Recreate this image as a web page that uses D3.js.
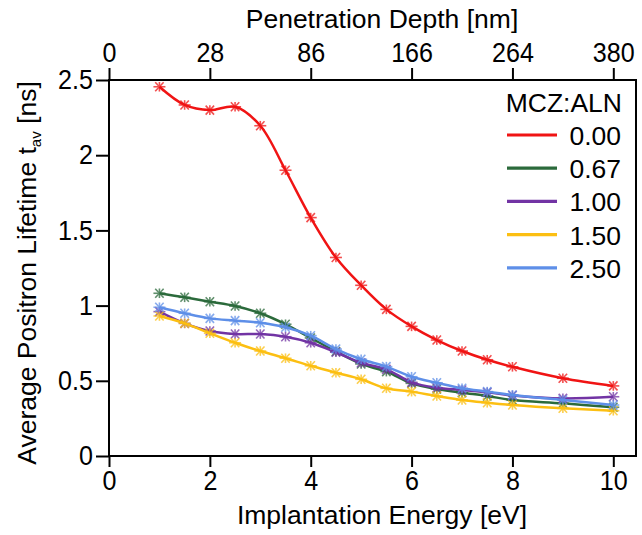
<!DOCTYPE html>
<html>
<head>
<meta charset="utf-8">
<script src="https://cdn.jsdelivr.net/npm/d3@7"></script>
<style>
  body { margin: 0; background: #fff; }
  text { font-family: "Liberation Sans", Arial, sans-serif; fill: #000; }
</style>
</head>
<body>
<div id="chart"></div>
<script>
// implantation energies (eV) shared by every sample
const energy = [1, 1.5, 2, 2.5, 3, 3.5, 4, 4.5, 5, 5.5, 6, 6.5, 7, 7.5, 8, 9, 10];

// average positron lifetime (ns) per MCZ:ALN ratio
const tau000 = [2.455, 2.334, 2.30, 2.322, 2.196, 1.90, 1.585, 1.32, 1.135, 0.975, 0.862, 0.771, 0.698, 0.64, 0.593, 0.517, 0.466];
const tau067 = [1.082, 1.055, 1.026, 0.997, 0.949, 0.876, 0.785, 0.695, 0.612, 0.561, 0.483, 0.445, 0.421, 0.399, 0.372, 0.35, 0.324];
const tau100 = [0.96, 0.882, 0.831, 0.811, 0.811, 0.793, 0.753, 0.69, 0.62, 0.576, 0.49, 0.454, 0.439, 0.423, 0.403, 0.383, 0.394];
const tau150 = [0.931, 0.882, 0.816, 0.753, 0.698, 0.65, 0.60, 0.554, 0.51, 0.45, 0.428, 0.399, 0.372, 0.354, 0.339, 0.317, 0.301];
const tau250 = [0.989, 0.949, 0.915, 0.90, 0.886, 0.856, 0.80, 0.711, 0.643, 0.594, 0.527, 0.487, 0.45, 0.428, 0.406, 0.372, 0.339];

const seriesNames = ["0.00", "0.67", "1.00", "1.50", "2.50"];
const seriesValues = [tau000, tau067, tau100, tau150, tau250];
const seriesColors = ["#f01414", "#2b6a3b", "#7234a4", "#fcbf12", "#5e8fe8"];

// top axis: penetration depth labels at these energies
const depthTickEnergy = [0, 2, 4, 6, 8, 10];
const depthTickLabels = ["0", "28", "86", "166", "264", "380"];

const energyTicks = [0, 2, 4, 6, 8, 10];
const lifetimeTicks = [0, 0.5, 1, 1.5, 2, 2.5];

const W = 642, H = 535;
const margin = { top: 80, right: 6, bottom: 79, left: 109 };
const innerW = W - margin.left - margin.right;
const innerH = H - margin.top - margin.bottom;

const svg = d3.select("#chart").append("svg")
    .attr("width", W)
    .attr("height", H);

const g = svg.append("g")
    .attr("transform", `translate(${margin.left},${margin.top})`);

const x = d3.scaleLinear().domain([0, 10.45]).range([0, innerW]);
const y = d3.scaleLinear().domain([0, 2.5]).range([innerH, 0]);

// axes
const squeeze = 0.93; // the original labels use a slightly narrow face

const xAxis = g.append("g")
    .attr("transform", `translate(0,${innerH})`)
    .call(d3.axisBottom(x).tickValues(energyTicks).tickSize(11).tickPadding(4).tickFormat(d3.format("d")));

const xTop = g.append("g")
    .call(d3.axisTop(x).tickValues(depthTickEnergy).tickSize(12).tickPadding(6)
        .tickFormat((d, i) => depthTickLabels[i]));

const yAxis = g.append("g")
    .call(d3.axisLeft(y).tickValues(lifetimeTicks).tickSize(13).tickPadding(3).tickFormat(d3.format("~g")));

[xAxis, xTop, yAxis].forEach(a => {
    a.select(".domain").remove();
    a.selectAll(".tick line").attr("stroke", "#000").attr("stroke-width", 2);
    a.selectAll(".tick text")
        .style("font-size", "27px")
        .style("font-family", "Liberation Sans, Arial, sans-serif")
        .attr("transform", `scale(${squeeze},1)`);
});
yAxis.selectAll(".tick text").attr("x", -16 / squeeze);

// frame
g.append("rect")
    .attr("x", 0).attr("y", 0)
    .attr("width", innerW).attr("height", innerH)
    .attr("fill", "none")
    .attr("stroke", "#000")
    .attr("stroke-width", 2);

// lines + markers
const line = d3.line()
    .x(d => x(d[0]))
    .y(d => y(d[1]))
    .curve(d3.curveCatmullRom.alpha(0.5));

const star = (sel, color) => {
    const r = 6;
    const arms = [[-r, 0, r, 0], [0, -r * 0.8, 0, r * 0.8],
        [-r * 0.7, -r * 0.75, r * 0.7, r * 0.75], [-r * 0.7, r * 0.75, r * 0.7, -r * 0.75]];
    arms.forEach(a => {
        sel.append("line")
            .attr("x1", a[0]).attr("y1", a[1])
            .attr("x2", a[2]).attr("y2", a[3])
            .attr("stroke", color)
            .attr("stroke-width", 1.6);
    });
};

seriesValues.forEach((vals, i) => {
    const pts = energy.map((e, j) => [e, vals[j]]);
    const sg = g.append("g").attr("class", "series");
    sg.append("path")
        .datum(pts)
        .attr("fill", "none")
        .attr("stroke", seriesColors[i])
        .attr("stroke-width", 2.5)
        .attr("d", line);
    sg.selectAll(".mk")
        .data(pts)
        .join("g")
        .attr("class", "mk")
        .attr("opacity", 0.75)
        .attr("transform", d => `translate(${x(d[0])},${y(d[1])})`)
        .each(function() { star(d3.select(this), seriesColors[i]); });
});

// legend
const legend = svg.append("g");
legend.append("text")
    .attr("x", 622).attr("y", 112)
    .attr("text-anchor", "end")
    .style("font-size", "26.5px")
    .text("MCZ:ALN");

seriesNames.forEach((name, i) => {
    const ly = 135 + i * 33.2;
    legend.append("line")
        .attr("x1", 507).attr("x2", 557)
        .attr("y1", ly).attr("y2", ly)
        .attr("stroke", seriesColors[i])
        .attr("stroke-width", 3.2);
    legend.append("text")
        .attr("x", 621).attr("y", ly + 10)
        .attr("text-anchor", "end")
        .style("font-size", "26.5px")
        .text(name);
});

// axis titles
svg.append("text")
    .attr("x", 382).attr("y", 524)
    .attr("text-anchor", "middle")
    .style("font-size", "26.5px")
    .text("Implantation Energy [eV]");

svg.append("text")
    .attr("x", 382).attr("y", 28)
    .attr("text-anchor", "middle")
    .style("font-size", "26.5px")
    .text("Penetration Depth [nm]");

const yt = svg.append("text")
    .attr("transform", "translate(36,273) rotate(-90)")
    .attr("text-anchor", "middle")
    .style("font-size", "26.5px");
yt.append("tspan").text("Average Positron Lifetime t");
yt.append("tspan").attr("dy", 5).style("font-size", "15px").text("av");
yt.append("tspan").attr("dy", -5).text(" [ns]");
</script>
</body>
</html>
